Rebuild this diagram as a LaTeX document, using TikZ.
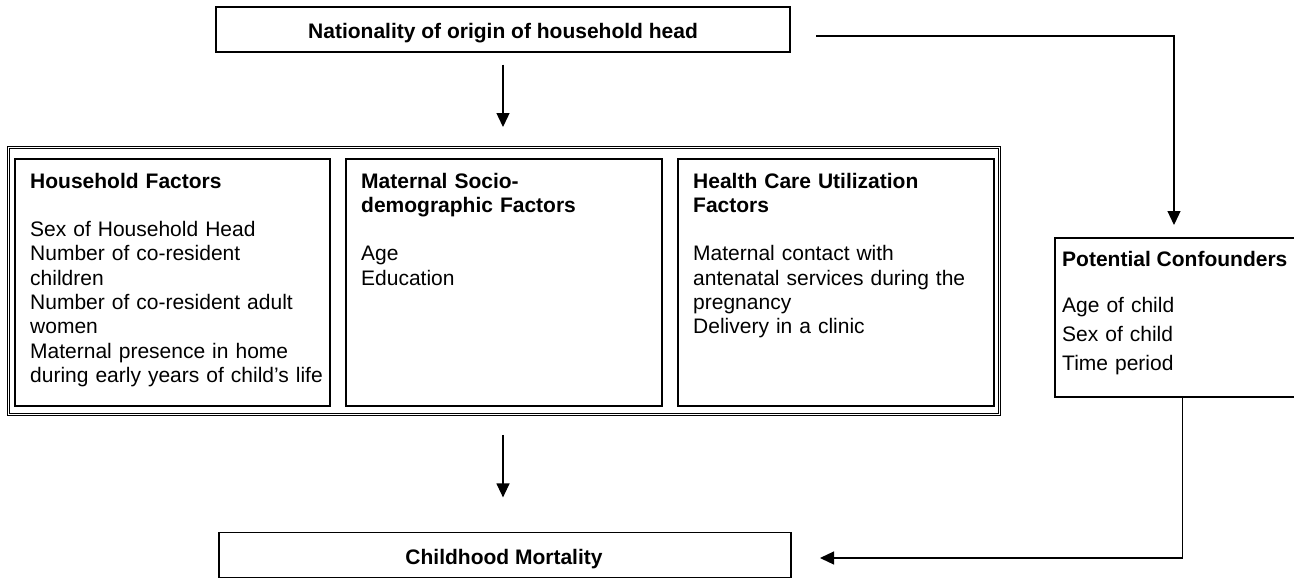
\documentclass[tikz,border=0pt]{standalone}
\usepackage{fontspec}
\setmainfont{Liberation Sans}
\usetikzlibrary{arrows.meta}
\begin{document}
\begin{tikzpicture}[x=1pt,y=-1pt,
  frame/.style={draw=black, line width=1.2pt, inner sep=0pt},
  txt/.style={inner sep=0pt, anchor=base west, align=left, text width=#1,
              font=\fontsize{21}{24.3}\selectfont},
  head/.style={inner sep=0pt, anchor=base, font=\bfseries\fontsize{21}{24.3}\selectfont},
  arr/.style={line width=1.25pt, -{Triangle[width=13pt,length=14pt]}}]
\clip (0,0) rectangle (1294,578);
\fill[white] (0,0) rectangle (1294,578);

% top box
\node[frame, minimum width=574pt, minimum height=45pt] (top) at (503,29.5) {};
\node[head] (toptxt) at (503,39) {Nationality of origin of household head};

% outer double frame
\node[draw=black, line width=0.95pt, double, double distance=1.6pt, inner sep=0pt,
      minimum width=991pt, minimum height=267pt] (outer) at (504,281) {};

% inner boxes
\node[frame, minimum width=315pt, minimum height=247pt] (hh) at (172.5,282.5) {};
\node[frame, minimum width=316pt, minimum height=247pt] (mat) at (504,282.5) {};
\node[frame, minimum width=316pt, minimum height=247pt] (hc) at (836,282.5) {};

\node[txt=300pt] (hhtxt) at (30,188) {\textbf{Household Factors}\\[24.3pt]
Sex of Household Head\\
Number of co-resident\\
children\\
Number of co-resident adult\\
women\\
Maternal presence in home\\
during early years of child’s life};

\node[txt=300pt] (mattxt) at (361,188) {\textbf{Maternal Socio-}\\
\textbf{demographic Factors}\\[24.3pt]
Age\\
Education};

\node[txt=300pt] (hctxt) at (693,188) {\textbf{Health Care Utilization}\\
\textbf{Factors}\\[24.3pt]
Maternal contact with\\
antenatal services during the\\
pregnancy\\
Delivery in a clinic};

% potential confounders
\node[frame, minimum width=255pt, minimum height=159pt] (conf) at (1182.5,317.5) {};
\node[inner sep=0pt, anchor=base west, font=\bfseries\fontsize{21}{24.3}\selectfont] (conft) at (1062,266) {Potential Confounders};
\node[inner sep=0pt, anchor=base west, align=left, text width=220pt,
      font=\fontsize{21}{29}\selectfont] (confb) at (1062,312) {Age of child\\
Sex of child\\
Time period};

% bottom box
\node[frame, minimum width=572pt, minimum height=45pt] (bot) at (505,555) {};
\node[head] (bottxt) at (504,564) {Childhood Mortality};

% connectors
\draw[arr] ([yshift=-12pt]top.south) -- ([yshift=20pt]top.south |- outer.north);
\draw[arr] ([yshift=-20pt]top.south |- outer.south) -- ([yshift=34.5pt]top.south |- bot.north);
\coordinate (c1s) at (816,36);
\coordinate (c1e) at (1174,225);
\draw[arr] (c1s) -| (c1e);
\coordinate (c2e) at (820,558);
\draw[arr] (conf.south) |- (c2e);
\end{tikzpicture}
\end{document}
